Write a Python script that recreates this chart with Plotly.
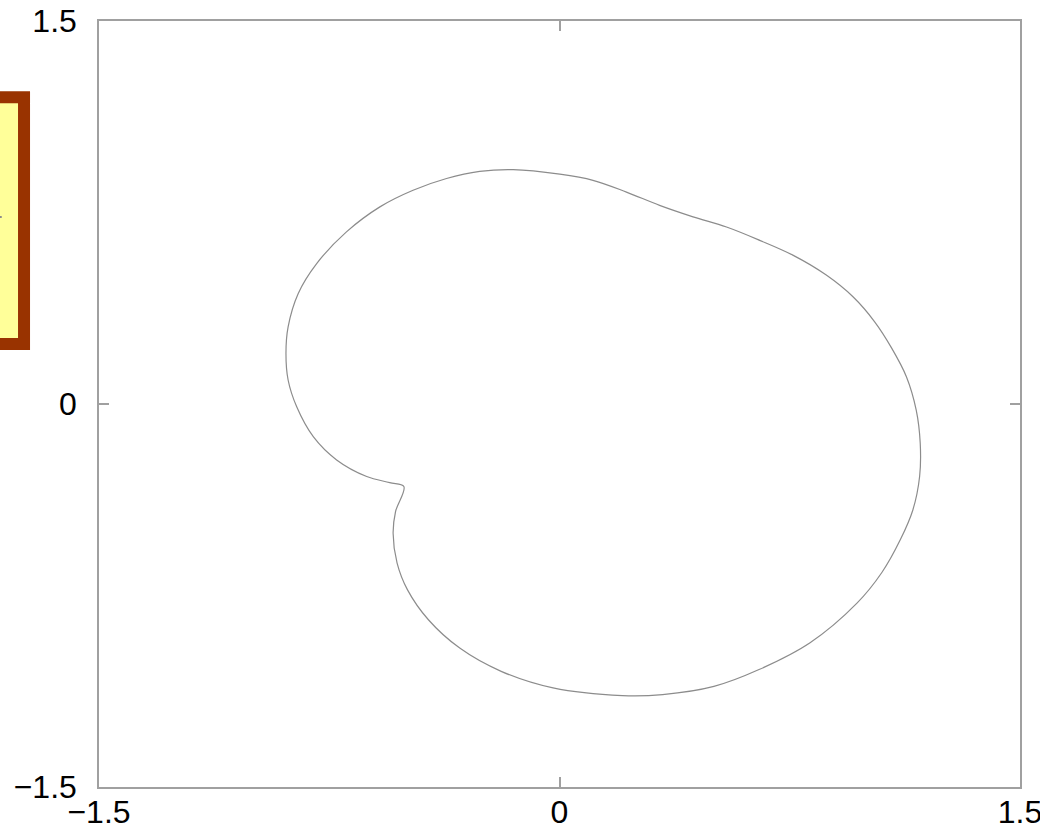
import plotly.graph_objects as go

# Closed outline, traced clockwise starting and ending at the notch so the
# corner there stays sharp while the rest is drawn as a smooth spline.
curve_x = [
    -0.507, -0.534, -0.542, -0.529, -0.495, -0.427, -0.325, -0.190, -0.021,
    0.205, 0.336, 0.503, 0.650, 0.815, 0.969, 1.050, 1.110, 1.151, 1.173,
    1.175, 1.162, 1.130, 1.082, 1.026, 0.956, 0.869, 0.760, 0.652, 0.544,
    0.435, 0.326, 0.218, 0.109, 0.001, -0.151, -0.260, -0.368, -0.477,
    -0.585, -0.694, -0.791, -0.851, -0.884, -0.891, -0.884, -0.856, -0.802,
    -0.726, -0.628, -0.553, -0.507,
]
curve_y = [
    -0.323, -0.421, -0.506, -0.623, -0.728, -0.845, -0.956, -1.047, -1.112,
    -1.142, -1.138, -1.106, -1.040, -0.936, -0.780, -0.660, -0.532, -0.415,
    -0.284, -0.154, -0.024, 0.107, 0.219, 0.323, 0.420, 0.505, 0.583, 0.641,
    0.693, 0.733, 0.778, 0.830, 0.876, 0.900, 0.918, 0.911, 0.883, 0.837,
    0.772, 0.674, 0.550, 0.433, 0.302, 0.198, 0.094, -0.011, -0.128,
    -0.219, -0.284, -0.308, -0.323,
]

tick_vals = [-1.5, 0, 1.5]
axis_range = [-1.5, 1.5]

AXIS_GREY = "#a0a0a0"
CURVE_GREY = "#8c8c8c"

fig = go.Figure()
fig.add_trace(go.Scatter(
    x=curve_x, y=curve_y, mode="lines",
    line=dict(color=CURVE_GREY, width=1.2, shape="spline", smoothing=1.0),
    hoverinfo="skip", showlegend=False,
))

axis_common = dict(
    range=axis_range, tickvals=tick_vals, ticks="inside", ticklen=10,
    tickcolor=AXIS_GREY, tickwidth=1.5, showline=True, linecolor=AXIS_GREY,
    linewidth=1.5, mirror="allticks", showgrid=False, zeroline=False,
    automargin=False, ticklabeloverflow="allow",
    tickfont=dict(family="Liberation Sans, Arial", size=32, color="#000"),
)
fig.update_xaxes(**axis_common, ticklabelstandoff=-4)
fig.update_yaxes(**axis_common, ticklabelstandoff=14)

# Key box sitting mostly beyond the left edge of the page
fig.add_shape(type="rect", xref="paper", yref="paper",
              x0=-0.35, x1=-0.0814, y0=0.5782, y1=0.9006,
              line=dict(color="#993300", width=12), fillcolor="#ffff99", layer="above")
fig.add_shape(type="line", xref="paper", yref="paper",
              x0=-0.2, x1=-0.1056, y0=0.7442, y1=0.7442,
              line=dict(color="#8c8c8c", width=2), layer="above")

fig.update_layout(
    width=1040, height=832,
    margin=dict(l=99, r=19.5, t=20.5, b=44.5),
    paper_bgcolor="white", plot_bgcolor="white",
    showlegend=False,
)

fig.write_html("out.html")
